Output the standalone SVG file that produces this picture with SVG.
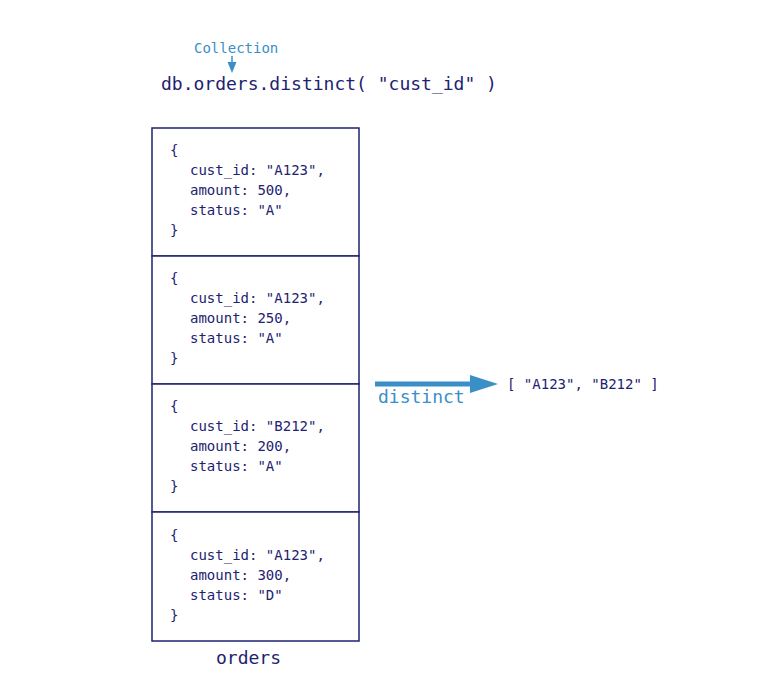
<svg xmlns="http://www.w3.org/2000/svg" width="767" height="687" viewBox="0 0 767 687">
<style>
text{font-family:"DejaVu Sans Mono","Liberation Mono",monospace;}
.doc{font-size:14px;fill:#1d2371;}
.big{font-size:18px;fill:#1d2371;}
.blue{fill:#3a8fc6;}
.box{fill:#fff;stroke:#1d2371;stroke-width:1.5;}
</style>
<rect width="767" height="687" fill="#fff"/>
<g id="title">
<text x="194" y="53" class="blue" font-size="14">Collection</text>
<text x="161" y="90" class="big">db.orders.distinct( "cust_id" )</text>
</g>
<g id="connectors">
<line x1="232" y1="56" x2="232" y2="64" stroke="#3a8fc6" stroke-width="1.5"/>
<path d="M227.5,62 L236.5,62 L232,73 Z" fill="#3a8fc6"/>
<line x1="375" y1="384" x2="472" y2="384" stroke="#3a8fc6" stroke-width="5"/>
<path d="M470,375 L498,384 L470,393 Z" fill="#3a8fc6"/>
<text x="378" y="403" class="big blue">distinct</text>
</g>
<g id="doc1">
<rect class="box" x="152" y="128" width="207" height="128"/>
<text class="doc" x="170" y="155">{</text>
<text class="doc" x="190" y="175">cust_id: "A123",</text>
<text class="doc" x="190" y="195">amount: 500,</text>
<text class="doc" x="190" y="215">status: "A"</text>
<text class="doc" x="170" y="235">}</text>
</g>
<g id="doc2">
<rect class="box" x="152" y="256" width="207" height="128"/>
<text class="doc" x="170" y="283">{</text>
<text class="doc" x="190" y="303">cust_id: "A123",</text>
<text class="doc" x="190" y="323">amount: 250,</text>
<text class="doc" x="190" y="343">status: "A"</text>
<text class="doc" x="170" y="363">}</text>
</g>
<g id="doc3">
<rect class="box" x="152" y="384" width="207" height="128"/>
<text class="doc" x="170" y="411">{</text>
<text class="doc" x="190" y="431">cust_id: "B212",</text>
<text class="doc" x="190" y="451">amount: 200,</text>
<text class="doc" x="190" y="471">status: "A"</text>
<text class="doc" x="170" y="491">}</text>
</g>
<g id="doc4">
<rect class="box" x="152" y="512" width="207" height="129"/>
<text class="doc" x="170" y="540">{</text>
<text class="doc" x="190" y="560">cust_id: "A123",</text>
<text class="doc" x="190" y="580">amount: 300,</text>
<text class="doc" x="190" y="600">status: "D"</text>
<text class="doc" x="170" y="620">}</text>
</g>
<g id="label">
<text x="216" y="664" class="big">orders</text>
</g>
<g id="result">
<text x="507" y="389" class="doc">[ "A123", "B212" ]</text>
</g>
</svg>
